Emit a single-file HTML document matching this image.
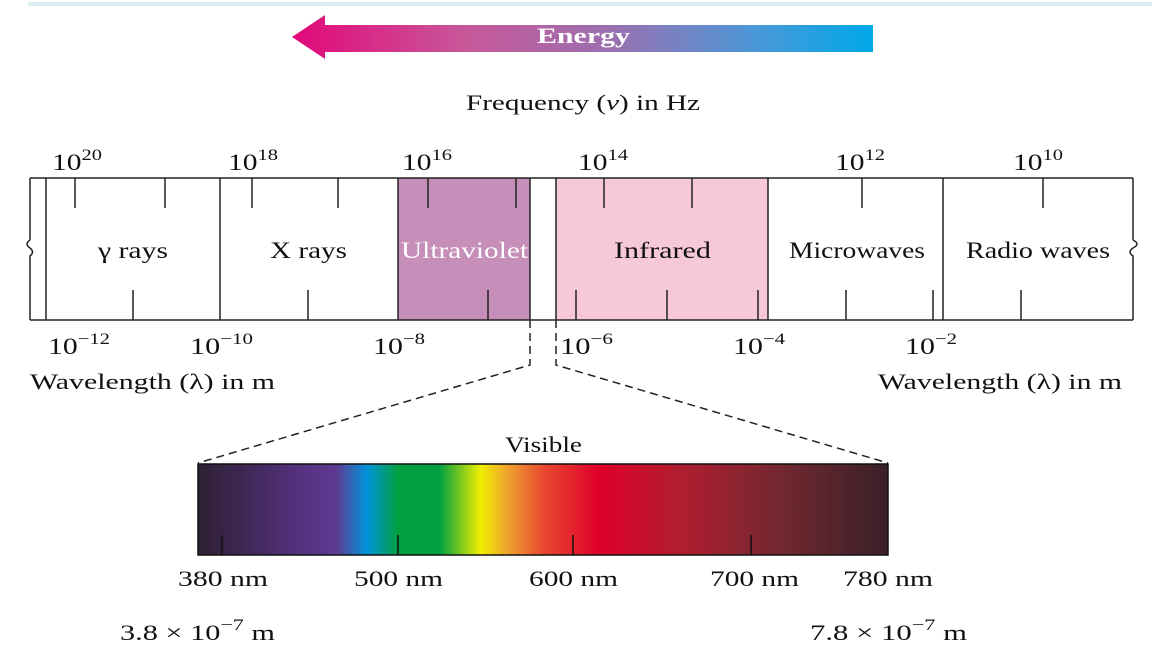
<!DOCTYPE html>
<html><head><meta charset="utf-8"><style>
html,body{margin:0;padding:0;background:#fff;}
svg text{font-family:"Liberation Serif",serif;fill:#111;}
</style></head><body>
<svg width="1152" height="648" viewBox="0 0 1152 648" xmlns="http://www.w3.org/2000/svg">
<defs>
<linearGradient id="en" x1="292" x2="873" y1="0" y2="0" gradientUnits="userSpaceOnUse">
<stop offset="0" stop-color="#e2087a"/><stop offset="0.3" stop-color="#c8589a"/>
<stop offset="0.55" stop-color="#9a70b0"/><stop offset="0.8" stop-color="#4a98d8"/><stop offset="1" stop-color="#00a8e8"/>
</linearGradient>
<linearGradient id="vis" x1="0" x2="1">
<stop offset="0" stop-color="#2e1f33"/><stop offset="0.14" stop-color="#52307a"/>
<stop offset="0.2" stop-color="#5e3a92"/><stop offset="0.245" stop-color="#0094d8"/>
<stop offset="0.29" stop-color="#00a040"/><stop offset="0.35" stop-color="#00a040"/>
<stop offset="0.41" stop-color="#f2ee00"/><stop offset="0.45" stop-color="#f0a030"/>
<stop offset="0.5" stop-color="#e84a30"/><stop offset="0.58" stop-color="#e0002a"/>
<stop offset="0.7" stop-color="#b01e30"/><stop offset="0.85" stop-color="#702830"/>
<stop offset="1" stop-color="#3a2028"/>
</linearGradient>
</defs>
<rect x="28" y="2" width="1124" height="4" fill="#dceef2"/>
<polygon points="292,37 325,15 325,25 873,25 873,52 325,52 325,59" fill="url(#en)"/>
<text x="537" y="43" font-size="22" font-weight="bold" textLength="93" lengthAdjust="spacingAndGlyphs" style="fill:#fff">Energy</text>
<text x="466" y="110" font-size="22" textLength="234" lengthAdjust="spacingAndGlyphs">Frequency (<tspan font-style="italic">ν</tspan>) in Hz</text>
<g font-size="23">
<text x="52" y="170" textLength="50" lengthAdjust="spacingAndGlyphs">10<tspan dy="-10" font-size="16">20</tspan></text>
<text x="228" y="170" textLength="50" lengthAdjust="spacingAndGlyphs">10<tspan dy="-10" font-size="16">18</tspan></text>
<text x="402" y="170" textLength="50" lengthAdjust="spacingAndGlyphs">10<tspan dy="-10" font-size="16">16</tspan></text>
<text x="578" y="170" textLength="50" lengthAdjust="spacingAndGlyphs">10<tspan dy="-10" font-size="16">14</tspan></text>
<text x="835" y="170" textLength="50" lengthAdjust="spacingAndGlyphs">10<tspan dy="-10" font-size="16">12</tspan></text>
<text x="1013" y="170" textLength="50" lengthAdjust="spacingAndGlyphs">10<tspan dy="-10" font-size="16">10</tspan></text>
</g>
<rect x="398" y="178" width="132" height="142" fill="#c68fba"/>
<rect x="556" y="178" width="212" height="142" fill="#f7c8d8"/>
<g stroke="#222" stroke-width="1.5" fill="none">
<line x1="30" y1="178" x2="1133" y2="178"/><line x1="30" y1="320" x2="1133" y2="320"/>
<line x1="30" y1="178" x2="30" y2="240"/><line x1="30" y1="262" x2="30" y2="320"/>
<path d="M30,240 q-6,4 0,8 q5,4 0,8 l0,6"/>
<line x1="1133" y1="178" x2="1133" y2="240"/><line x1="1133" y1="262" x2="1133" y2="320"/>
<path d="M1133,240 q8,4 0,8 q-6,4 0,8 l0,6"/>
<line x1="46" y1="178" x2="46" y2="320"/><line x1="220" y1="178" x2="220" y2="320"/>
<line x1="398" y1="178" x2="398" y2="320"/><line x1="530" y1="178" x2="530" y2="320"/>
<line x1="556" y1="178" x2="556" y2="320"/><line x1="768" y1="178" x2="768" y2="320"/>
<line x1="943" y1="178" x2="943" y2="320"/>
<path d="M75,178v30M165,178v30M252,178v30M338,178v30M428,178v30M516,178v30M604,178v30M692,178v30M862,178v30M1043,178v30"/>
<path d="M133,320v-30M308,320v-30M488,320v-30M576,320v-30M667,320v-30M758,320v-30M846,320v-30M933,320v-30M1021,320v-30"/>
<path d="M530,320 V365 L198,463 M556,320 V365 L888,463" stroke-dasharray="8,5"/>
</g>
<g font-size="23">
<text x="98" y="258" textLength="70" lengthAdjust="spacingAndGlyphs">γ rays</text>
<text x="270" y="258" textLength="77" lengthAdjust="spacingAndGlyphs">X rays</text>
<text x="401" y="258" textLength="127" lengthAdjust="spacingAndGlyphs" style="fill:#fff">Ultraviolet</text>
<text x="614" y="258" textLength="97" lengthAdjust="spacingAndGlyphs">Infrared</text>
<text x="789" y="258" textLength="136" lengthAdjust="spacingAndGlyphs">Microwaves</text>
<text x="966" y="258" textLength="144" lengthAdjust="spacingAndGlyphs">Radio waves</text>
</g>
<g font-size="23">
<text x="48" y="354" textLength="62" lengthAdjust="spacingAndGlyphs">10<tspan dy="-10" font-size="16">−12</tspan></text>
<text x="190" y="354" textLength="63" lengthAdjust="spacingAndGlyphs">10<tspan dy="-10" font-size="16">−10</tspan></text>
<text x="373" y="354" textLength="52" lengthAdjust="spacingAndGlyphs">10<tspan dy="-10" font-size="16">−8</tspan></text>
<text x="560" y="354" textLength="53" lengthAdjust="spacingAndGlyphs">10<tspan dy="-10" font-size="16">−6</tspan></text>
<text x="733" y="354" textLength="52" lengthAdjust="spacingAndGlyphs">10<tspan dy="-10" font-size="16">−4</tspan></text>
<text x="905" y="354" textLength="52" lengthAdjust="spacingAndGlyphs">10<tspan dy="-10" font-size="16">−2</tspan></text>
</g>
<g font-size="22">
<text x="30" y="389" textLength="245" lengthAdjust="spacingAndGlyphs">Wavelength (λ) in m</text>
<text x="878" y="389" textLength="244" lengthAdjust="spacingAndGlyphs">Wavelength (λ) in m</text>
<text x="505" y="452" textLength="77" lengthAdjust="spacingAndGlyphs">Visible</text>
</g>
<rect x="198" y="464" width="690" height="91" fill="url(#vis)" stroke="#111" stroke-width="1.5"/>
<path d="M222,555v-20M398,555v-20M573,555v-20M751,555v-20" stroke="#111" stroke-width="1.5"/>
<g font-size="22">
<text x="178" y="586" textLength="90" lengthAdjust="spacingAndGlyphs">380 nm</text>
<text x="354" y="586" textLength="89" lengthAdjust="spacingAndGlyphs">500 nm</text>
<text x="529" y="586" textLength="89" lengthAdjust="spacingAndGlyphs">600 nm</text>
<text x="710" y="586" textLength="89" lengthAdjust="spacingAndGlyphs">700 nm</text>
<text x="843" y="586" textLength="90" lengthAdjust="spacingAndGlyphs">780 nm</text>
</g>
<g font-size="22">
<text x="120" y="640" textLength="155" lengthAdjust="spacingAndGlyphs">3.8 × 10<tspan dy="-10" font-size="16">−7</tspan><tspan dy="10"> m</tspan></text>
<text x="810" y="640" textLength="157" lengthAdjust="spacingAndGlyphs">7.8 × 10<tspan dy="-10" font-size="16">−7</tspan><tspan dy="10"> m</tspan></text>
</g>
</svg>
</body></html>
